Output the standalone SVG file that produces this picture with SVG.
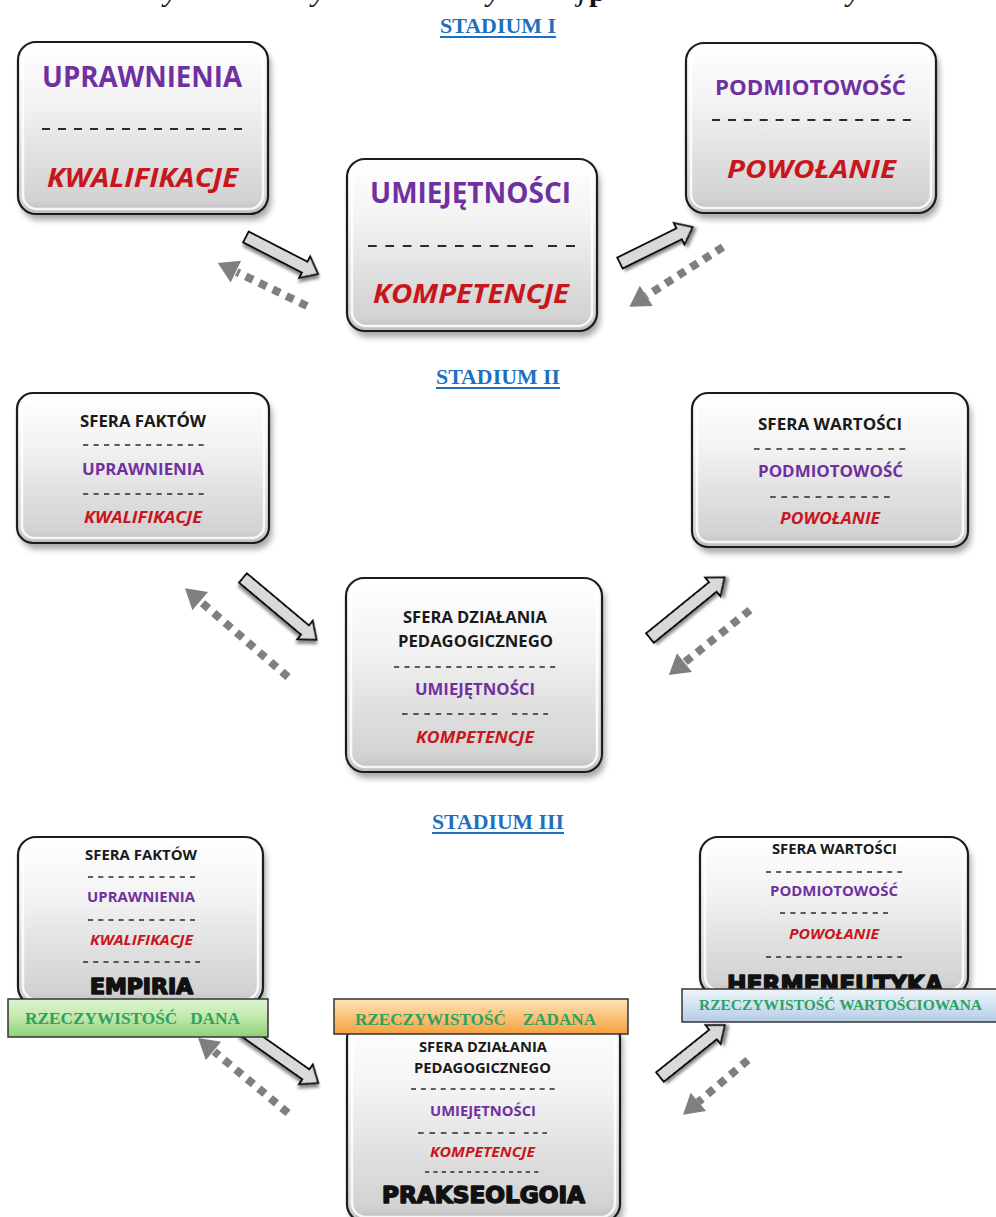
<svg xmlns="http://www.w3.org/2000/svg" width="996" height="1217" viewBox="0 0 996 1217">
  <defs>
    <linearGradient id="boxg" x1="0" y1="0" x2="0" y2="1">
      <stop offset="0" stop-color="#ffffff"/>
      <stop offset="0.35" stop-color="#f3f3f3"/>
      <stop offset="0.65" stop-color="#e1e1e1"/>
      <stop offset="0.92" stop-color="#d2d2d2"/>
      <stop offset="1" stop-color="#bdbdbd"/>
    </linearGradient>
    <linearGradient id="greeng" x1="0" y1="0" x2="0" y2="1">
      <stop offset="0" stop-color="#dff5d2"/>
      <stop offset="0.5" stop-color="#bfe8ab"/>
      <stop offset="1" stop-color="#8fcf78"/>
    </linearGradient>
    <linearGradient id="orangeg" x1="0" y1="0" x2="0" y2="1">
      <stop offset="0" stop-color="#fde3b8"/>
      <stop offset="0.5" stop-color="#fbc27a"/>
      <stop offset="1" stop-color="#f4a040"/>
    </linearGradient>
    <linearGradient id="blueg" x1="0" y1="0" x2="0" y2="1">
      <stop offset="0" stop-color="#eef4fb"/>
      <stop offset="0.5" stop-color="#d3e2f2"/>
      <stop offset="1" stop-color="#b3cbe6"/>
    </linearGradient>
    <filter id="soft" x="-20%" y="-20%" width="140%" height="140%">
      <feGaussianBlur stdDeviation="3"/>
    </filter>
    <filter id="arrshadow" x="-30%" y="-30%" width="160%" height="160%">
      <feDropShadow dx="2" dy="3" stdDeviation="1.5" flood-color="#000" flood-opacity="0.45"/>
    </filter>
    <style>
      .box { fill: url(#boxg); stroke: #1c1c1c; stroke-width: 2.2; }
      .hl { fill: none; stroke: #ffffff; stroke-opacity: 0.85; stroke-width: 2.5; }
      .shadow { fill: #000; opacity: 0.35; filter: url(#soft); }
      .t { font-family: "Open Sans", "Noto Sans", sans-serif; font-weight: 700; text-anchor: middle; }
      .pu { fill: #7030a0; }
      .rd { fill: #c8161d; font-style: italic; }
      .bk { fill: #1a1a1a; }
      .hv { font-family: "DejaVu Sans", "Liberation Sans", sans-serif; font-weight: 900; fill: #111; stroke: #111; stroke-width: 1.6; stroke-linejoin: round; text-anchor: middle; }
      .dl { stroke: #2a2a2a; stroke-width: 1.5; fill: none; }
      .dlb { stroke: #2a2a2a; stroke-width: 2; fill: none; }
      .stad { font-family: "Liberation Serif", serif; font-weight: 700; font-size: 22px; fill: #1f6fbf; text-anchor: middle; }
      .uline { stroke: #1f6fbf; stroke-width: 2; }
      .bar { stroke: #333; stroke-width: 1.5; }
      .bt { font-family: "Liberation Serif", serif; font-weight: 700; fill: #2ca25f; text-anchor: middle; }
      .solid { fill: #d9d9d9; stroke: #111; stroke-width: 2; stroke-linejoin: miter; filter: url(#arrshadow); }
      .dots { stroke: #7f7f7f; stroke-width: 8; stroke-dasharray: 8 7; fill: none; }
      .dhead { fill: #7f7f7f; }
      .top { font-family: "Liberation Serif", serif; font-size: 30px; fill: #111; }
    </style>
  </defs>

  <rect width="996" height="1217" fill="#ffffff"/>

  <!-- descenders of the heading line running off the top edge -->
  <text class="top" y="1" font-style="italic"><tspan x="164">y</tspan><tspan x="312">y</tspan><tspan x="487">y</tspan><tspan x="578">j</tspan><tspan x="589" font-style="normal" font-weight="700">p</tspan><tspan x="847">y</tspan></text>

  <!-- stage headings -->
  <g id="stadium-1">
    <text class="stad" x="498" y="33" textLength="116" lengthAdjust="spacingAndGlyphs">STADIUM I</text>
    <line class="uline" x1="440" y1="37" x2="556" y2="37"/>
  </g>
  <g id="stadium-2">
    <text class="stad" x="498" y="384" textLength="124" lengthAdjust="spacingAndGlyphs">STADIUM II</text>
    <line class="uline" x1="436" y1="388" x2="560" y2="388"/>
  </g>
  <g id="stadium-3">
    <text class="stad" x="498" y="829" textLength="132" lengthAdjust="spacingAndGlyphs">STADIUM III</text>
    <line class="uline" x1="432" y1="833" x2="564" y2="833"/>
  </g>

  <!-- connectors -->
  <g id="connectors">
    <!-- stage I -->
    <path class="solid" transform="translate(246,237) rotate(27.2)" d="M0,-6 H66 V-12 L81,0 L66,12 V6 H0 Z"/>
    <g transform="translate(307,306) rotate(205.8)">
      <line class="dots" x1="0" y1="0" x2="78" y2="0"/>
      <polygon class="dhead" points="99,0 79,-12 79,12"/>
    </g>
    <path class="solid" transform="translate(620,263) rotate(-26.3)" d="M0,-6 H66 V-12 L81,0 L66,12 V6 H0 Z"/>
    <g transform="translate(723,247) rotate(147.5)">
      <line class="dots" x1="0" y1="0" x2="91" y2="0"/>
      <polygon class="dhead" points="111,0 91,-12 91,12"/>
    </g>
    <!-- stage II -->
    <path class="solid" transform="translate(243,578) rotate(40)" d="M0,-6 H81 V-12 L96,0 L81,12 V6 H0 Z"/>
    <g transform="translate(288,677) rotate(220.8)">
      <line class="dots" x1="0" y1="0" x2="115" y2="0"/>
      <polygon class="dhead" points="136,0 116,-12 116,12"/>
    </g>
    <path class="solid" transform="translate(650,638) rotate(-39.1)" d="M0,-6 H81 V-12 L96,0 L81,12 V6 H0 Z"/>
    <g transform="translate(750,610) rotate(141.3)">
      <line class="dots" x1="0" y1="0" x2="84" y2="0"/>
      <polygon class="dhead" points="104,0 84,-12 84,12"/>
    </g>
    <!-- stage III -->
    <path class="solid" transform="translate(243,1030) rotate(35.2)" d="M0,-6 H77 V-12 L92,0 L77,12 V6 H0 Z"/>
    <g transform="translate(288,1113) rotate(219.8)">
      <line class="dots" x1="0" y1="0" x2="96" y2="0"/>
      <polygon class="dhead" points="117,0 97,-12 97,12"/>
    </g>
    <path class="solid" transform="translate(660,1077) rotate(-38.7)" d="M0,-6 H68 V-12 L83,0 L68,12 V6 H0 Z"/>
    <g transform="translate(748,1060) rotate(139.8)">
      <line class="dots" x1="0" y1="0" x2="65" y2="0"/>
      <polygon class="dhead" points="85,0 65,-12 65,12"/>
    </g>
  </g>

  <!-- stage I nodes -->
  <g id="s1-uprawnienia">
    <rect class="shadow" x="21" y="48" width="250" height="172" rx="18"/>
    <rect class="box" x="18" y="42" width="250" height="172" rx="18"/>
    <rect class="hl" x="23" y="47" width="240" height="162" rx="14"/>
    <text class="t pu" x="142" y="87" font-size="28" textLength="200" lengthAdjust="spacingAndGlyphs">UPRAWNIENIA</text>
    <line class="dlb" x1="42" y1="129" x2="242" y2="129" stroke-dasharray="8 8"/>
    <text class="t rd" x="142.5" y="187" font-size="27" textLength="191" lengthAdjust="spacingAndGlyphs">KWALIFIKACJE</text>
  </g>
  <g id="s1-umiejetnosci">
    <rect class="shadow" x="350" y="165" width="250" height="172" rx="18"/>
    <rect class="box" x="347" y="159" width="250" height="172" rx="18"/>
    <rect class="hl" x="352" y="164" width="240" height="162" rx="14"/>
    <text class="t pu" x="470.5" y="203" font-size="28" textLength="201" lengthAdjust="spacingAndGlyphs">UMIEJĘTNOŚCI</text>
    <line class="dlb" x1="368" y1="246" x2="533" y2="246" stroke-dasharray="8.7 8.7"/>
    <line class="dlb" x1="548" y1="246" x2="575" y2="246" stroke-dasharray="9 9"/>
    <text class="t rd" x="471" y="303" font-size="27" textLength="196" lengthAdjust="spacingAndGlyphs">KOMPETENCJE</text>
  </g>
  <g id="s1-podmiotowosc">
    <rect class="shadow" x="689" y="49" width="250" height="170" rx="18"/>
    <rect class="box" x="686" y="43" width="250" height="170" rx="18"/>
    <rect class="hl" x="691" y="48" width="240" height="160" rx="14"/>
    <text class="t pu" x="810.5" y="95" font-size="22" textLength="191" lengthAdjust="spacingAndGlyphs">PODMIOTOWOŚĆ</text>
    <line class="dlb" x1="712" y1="120" x2="911" y2="120" stroke-dasharray="8 7.9"/>
    <text class="t rd" x="811.5" y="178" font-size="25" textLength="169" lengthAdjust="spacingAndGlyphs">POWOŁANIE</text>
  </g>

  <!-- stage II nodes -->
  <g id="s2-sfera-faktow">
    <rect class="shadow" x="20" y="399" width="252" height="150" rx="16"/>
    <rect class="box" x="17" y="393" width="252" height="150" rx="16"/>
    <rect class="hl" x="22" y="398" width="242" height="140" rx="12"/>
    <text class="t bk" x="143" y="427" font-size="16" textLength="126" lengthAdjust="spacingAndGlyphs">SFERA FAKTÓW</text>
    <line class="dl" x1="83" y1="445" x2="204" y2="445" stroke-dasharray="5.25 5.25"/>
    <text class="t pu" x="143" y="475" font-size="16" textLength="122" lengthAdjust="spacingAndGlyphs">UPRAWNIENIA</text>
    <line class="dl" x1="83" y1="494" x2="204" y2="494" stroke-dasharray="5.25 5.25"/>
    <text class="t rd" x="143" y="523" font-size="16" textLength="118" lengthAdjust="spacingAndGlyphs">KWALIFIKACJE</text>
  </g>
  <g id="s2-sfera-dzialania">
    <rect class="shadow" x="349" y="584" width="256" height="194" rx="18"/>
    <rect class="box" x="346" y="578" width="256" height="194" rx="18"/>
    <rect class="hl" x="351" y="583" width="246" height="184" rx="14"/>
    <text class="t bk" x="475" y="623" font-size="16" textLength="144" lengthAdjust="spacingAndGlyphs">SFERA DZIAŁANIA</text>
    <text class="t bk" x="475.5" y="647" font-size="16" textLength="155" lengthAdjust="spacingAndGlyphs">PEDAGOGICZNEGO</text>
    <line class="dl" x1="394" y1="667" x2="556" y2="667" stroke-dasharray="5.2 5.2"/>
    <text class="t pu" x="475" y="695" font-size="16" textLength="120" lengthAdjust="spacingAndGlyphs">UMIEJĘTNOŚCI</text>
    <line class="dl" x1="402" y1="714" x2="500" y2="714" stroke-dasharray="5.6 5.6"/>
    <line class="dl" x1="512" y1="714" x2="548" y2="714" stroke-dasharray="5.2 5.2"/>
    <text class="t rd" x="475" y="743" font-size="16" textLength="118" lengthAdjust="spacingAndGlyphs">KOMPETENCJE</text>
  </g>
  <g id="s2-sfera-wartosci">
    <rect class="shadow" x="695" y="399" width="276" height="154" rx="16"/>
    <rect class="box" x="692" y="393" width="276" height="154" rx="16"/>
    <rect class="hl" x="697" y="398" width="266" height="144" rx="12"/>
    <text class="t bk" x="830" y="430" font-size="16" textLength="144" lengthAdjust="spacingAndGlyphs">SFERA WARTOŚCI</text>
    <line class="dl" x1="754" y1="449" x2="906" y2="449" stroke-dasharray="5.6 5.6"/>
    <text class="t pu" x="830.5" y="477" font-size="16" textLength="145" lengthAdjust="spacingAndGlyphs">PODMIOTOWOŚĆ</text>
    <line class="dl" x1="770" y1="497" x2="890" y2="497" stroke-dasharray="5.7 5.7"/>
    <text class="t rd" x="830" y="524" font-size="16" textLength="100" lengthAdjust="spacingAndGlyphs">POWOŁANIE</text>
  </g>

  <!-- stage III nodes -->
  <g id="s3-empiria">
    <rect class="shadow" x="21" y="843" width="245" height="168" rx="18"/>
    <rect class="box" x="18" y="837" width="245" height="168" rx="18"/>
    <rect class="hl" x="23" y="842" width="235" height="158" rx="14"/>
    <text class="t bk" x="141" y="860" font-size="15" textLength="112" lengthAdjust="spacingAndGlyphs">SFERA FAKTÓW</text>
    <line class="dl" x1="88" y1="877" x2="195" y2="877" stroke-dasharray="5.1 5.1"/>
    <text class="t pu" x="141" y="902" font-size="15" textLength="108" lengthAdjust="spacingAndGlyphs">UPRAWNIENIA</text>
    <line class="dl" x1="88" y1="920" x2="195" y2="920" stroke-dasharray="5.1 5.1"/>
    <text class="t rd" x="141.5" y="945" font-size="15" textLength="103" lengthAdjust="spacingAndGlyphs">KWALIFIKACJE</text>
    <line class="dl" x1="83" y1="962" x2="200" y2="962" stroke-dasharray="5.1 5.1"/>
    <text class="hv" x="141.5" y="994" font-size="21" textLength="103" lengthAdjust="spacingAndGlyphs">EMPIRIA</text>
    <rect class="bar" x="8" y="999" width="260" height="38" fill="url(#greeng)"/>
    <text class="bt" x="132.5" y="1024" font-size="17" textLength="215" lengthAdjust="spacingAndGlyphs" xml:space="preserve">RZECZYWISTOŚĆ   DANA</text>
  </g>
  <g id="s3-prakseologia">
    <rect class="shadow" x="350" y="1026" width="273" height="202" rx="18"/>
    <rect class="box" x="347" y="1020" width="273" height="202" rx="18"/>
    <rect class="hl" x="352" y="1025" width="263" height="192" rx="14"/>
    <rect class="bar" x="334" y="999" width="294" height="35" fill="url(#orangeg)"/>
    <text class="bt" x="475.5" y="1025" font-size="17" textLength="241" lengthAdjust="spacingAndGlyphs" xml:space="preserve">RZECZYWISTOŚĆ    ZADANA</text>
    <text class="t bk" x="483" y="1052" font-size="15" textLength="128" lengthAdjust="spacingAndGlyphs">SFERA DZIAŁANIA</text>
    <text class="t bk" x="482.5" y="1073" font-size="15" textLength="137" lengthAdjust="spacingAndGlyphs">PEDAGOGICZNEGO</text>
    <line class="dl" x1="411" y1="1089" x2="555" y2="1089" stroke-dasharray="5 4.9"/>
    <text class="t pu" x="483" y="1116" font-size="15" textLength="106" lengthAdjust="spacingAndGlyphs">UMIEJĘTNOŚCI</text>
    <line class="dl" x1="418" y1="1133" x2="515" y2="1133" stroke-dasharray="5.7 5.7"/>
    <line class="dl" x1="524" y1="1133" x2="547" y2="1133" stroke-dasharray="4.6 4.6"/>
    <text class="t rd" x="482.5" y="1157" font-size="15" textLength="105" lengthAdjust="spacingAndGlyphs">KOMPETENCJE</text>
    <line class="dl" x1="425" y1="1172" x2="540" y2="1172" stroke-dasharray="4.2 4.2"/>
    <text class="hv" x="483.5" y="1203" font-size="23" textLength="203" lengthAdjust="spacingAndGlyphs">PRAKSEOLGOIA</text>
  </g>
  <g id="s3-hermeneutyka">
    <rect class="shadow" x="703" y="843" width="268" height="158" rx="18"/>
    <rect class="box" x="700" y="837" width="268" height="158" rx="18"/>
    <rect class="hl" x="705" y="842" width="258" height="148" rx="14"/>
    <text class="t bk" x="834.5" y="854" font-size="15" textLength="125" lengthAdjust="spacingAndGlyphs">SFERA WARTOŚCI</text>
    <line class="dl" x1="766" y1="872" x2="902" y2="872" stroke-dasharray="5 5.1"/>
    <text class="t pu" x="834" y="896" font-size="15" textLength="128" lengthAdjust="spacingAndGlyphs">PODMIOTOWOŚĆ</text>
    <line class="dl" x1="780" y1="913" x2="888" y2="913" stroke-dasharray="5.1 5.2"/>
    <text class="t rd" x="834" y="939" font-size="15" textLength="90" lengthAdjust="spacingAndGlyphs">POWOŁANIE</text>
    <line class="dl" x1="766" y1="957" x2="902" y2="957" stroke-dasharray="5 5.1"/>
    <text class="hv" x="835" y="993" font-size="25" textLength="216" lengthAdjust="spacingAndGlyphs">HERMENEUTYKA</text>
    <rect class="bar" x="682" y="989" width="320" height="33" fill="url(#blueg)"/>
    <text class="bt" x="840.5" y="1010" font-size="15" textLength="283" lengthAdjust="spacingAndGlyphs">RZECZYWISTOŚĆ WARTOŚCIOWANA</text>
  </g>
</svg>
